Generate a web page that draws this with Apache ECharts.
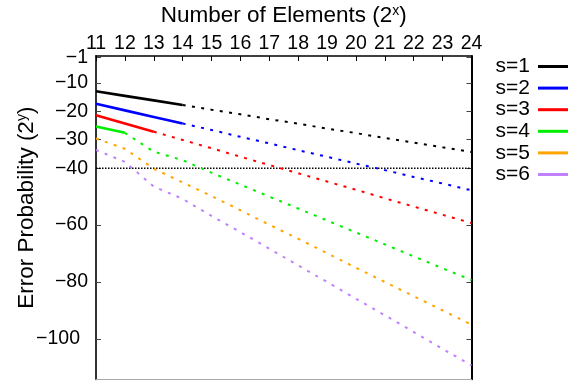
<!DOCTYPE html>
<html>
<head>
<meta charset="utf-8">
<script src="https://cdn.jsdelivr.net/npm/echarts@6/dist/echarts.min.js"></script>
<style>
  html, body { margin: 0; padding: 0; background: #fff; }
  #chart { width: 587px; height: 383px; }
</style>
</head>
<body>
<div id="chart"></div>
<script>
// number of elements, as powers of two
const xs = [11, 12, 13, 14, 15, 16, 17, 18, 19, 20, 21, 22, 23, 24];
// error probability exponents
const s1 = [-13.0, -14.6, -16.2, -17.8, -19.5, -21.1, -22.8, -24.4, -26.1, -27.7, -29.4, -31.0, -32.7, -34.3];
const s2 = [-17.4, -19.7, -22.0, -24.3, -26.6, -29.0, -31.3, -33.7, -36.0, -38.4, -40.7, -43.1, -45.4, -47.8];
const s3 = [-21.4, -24.3, -27.2, -30.1, -33.0, -36.0, -38.9, -41.8, -44.7, -47.6, -50.6, -53.5, -56.4, -59.3];
const s4 = [-25.4, -27.6, -34.2, -37.2, -41.6, -45.8, -50.0, -54.2, -58.4, -62.6, -66.8, -71.0, -75.2, -79.3];
const s5 = [-29.6, -33.2, -40.2, -45.0, -49.8, -54.8, -59.9, -64.8, -69.9, -75.0, -80.0, -85.0, -90.0, -95.0];
const s6 = [-33.6, -37.8, -46.5, -50.8, -56.8, -62.5, -68.3, -74.2, -80.0, -85.9, -91.7, -97.6, -103.5, -109.3];
// last x of the measured (solid) part, the rest is extrapolated (dotted)
const solidUntil = [14, 14, 13, 12, null, null];
const names = ["s=1", "s=2", "s=3", "s=4", "s=5", "s=6"];
const threshold = -40;
const yTicks = [-1, -10, -20, -30, -40, -60, -80, -100];

const colors = ["#000000", "#0000ff", "#ff0000", "#00ee00", "#ffa500", "#c080ff"];
const font = "Liberation Sans, Arial, sans-serif";
const allSeries = [s1, s2, s3, s4, s5, s6];

const chart = echarts.init(document.getElementById("chart"));

const series = [];
allSeries.forEach((vals, i) => {
  const pts = xs.map((x, k) => [x, vals[k]]);
  const cut = solidUntil[i];
  if (cut !== null) {
    series.push({
      name: names[i],
      type: "line",
      data: pts.filter(p => p[0] <= cut),
      symbol: "none",
      lineStyle: { color: colors[i], width: 2.6 },
      itemStyle: { color: colors[i] },
      z: 3
    });
  }
  series.push({
    name: names[i],
    type: "line",
    data: cut === null ? pts : pts.filter(p => p[0] >= cut),
    symbol: "none",
    lineStyle: { color: colors[i], width: 2, type: [3, 6.4] },
    itemStyle: { color: colors[i] },
    z: 3
  });
});
// the 2^-40 line
series.push({
  name: "threshold",
  type: "line",
  data: [[xs[0], threshold], [xs[xs.length - 1], threshold]],
  symbol: "none",
  lineStyle: { color: "#000", width: 1.5, type: [1.5, 1.5] },
  z: 2
});

const minus = v => "\u2212" + Math.abs(v);
const supRich = { sup: { fontSize: 14, verticalAlign: "top", padding: [0, 0, 7, 0] } };

chart.setOption({
  animation: false,
  textStyle: { fontFamily: font },
  grid: {
    left: 96, right: 115.5, top: 56, bottom: 3.7,
    containLabel: false, outerBoundsMode: "none"
  },
  legend: {
    data: names.map(n => ({ name: n, icon: "rect" })),
    orient: "vertical",
    align: "right",
    right: 19,
    top: 56,
    padding: 0,
    itemWidth: 30,
    itemHeight: 3,
    itemGap: 0.6,
    textStyle: {
      fontSize: 21, color: "#000", fontFamily: font, lineHeight: 21,
      padding: [0, 3, 0, 0]
    }
  },
  xAxis: [
    {
      type: "value",
      position: "top",
      min: 11, max: 24, interval: 1,
      name: "Number of Elements (2{sup|x})",
      nameLocation: "middle",
      nameGap: 29,
      nameMoveOverlap: false,
      nameTextStyle: { fontSize: 22.5, color: "#000", fontFamily: font, rich: supRich },
      axisLine: { show: true, lineStyle: { color: "#000", width: 1.5 } },
      axisTick: { inside: true, length: 5, lineStyle: { color: "#000" } },
      axisLabel: { fontSize: 19.5, color: "#000", margin: 2, fontFamily: font },
      splitLine: { show: false }
    },
    {
      type: "value",
      position: "bottom",
      min: 11, max: 24,
      axisLine: { show: true, lineStyle: { color: "#aaa", width: 1 } },
      axisTick: { show: false },
      axisLabel: { show: false },
      splitLine: { show: false }
    }
  ],
  yAxis: [
    {
      type: "value",
      position: "left",
      min: -114.2, max: -0.6,
      name: "Error Probability (2{sup|y})",
      nameLocation: "middle",
      nameGap: 58,
      nameMoveOverlap: false,
      nameRotate: 90,
      nameTextStyle: {
        fontSize: 22.5, color: "#000", fontFamily: font, rich: supRich,
        padding: [0, 0, 0, 20]
      },
      axisLine: { show: true, lineStyle: { color: "#333", width: 2 } },
      axisTick: { inside: true, length: 5, customValues: yTicks, lineStyle: { color: "#444" } },
      axisLabel: {
        fontSize: 19.5, color: "#000", margin: 8, fontFamily: font,
        customValues: yTicks,
        formatter: v => (v === -100 ? "{o|" + minus(v) + "}" : minus(v)),
        rich: { o: { fontSize: 19.5, color: "#000", fontFamily: font, padding: [0, 8, 0, 0] } }
      },
      splitLine: { show: false }
    },
    {
      type: "value",
      position: "right",
      min: -114.2, max: -0.6,
      axisLine: { show: true, lineStyle: { color: "#000", width: 2 } },
      axisTick: { inside: true, length: 5, customValues: yTicks, lineStyle: { color: "#444" } },
      axisLabel: { show: false },
      splitLine: { show: false }
    }
  ],
  series
});
</script>
</body>
</html>
